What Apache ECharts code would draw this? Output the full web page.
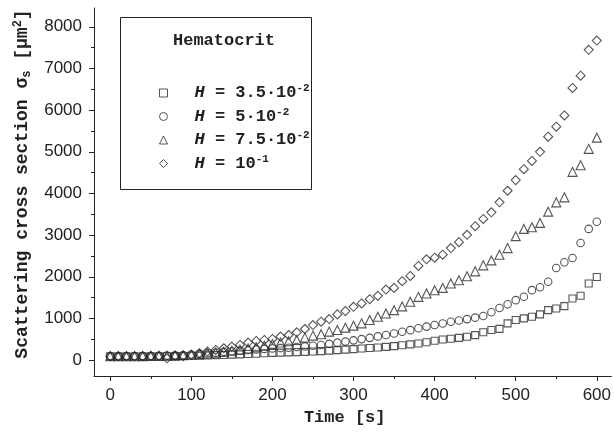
<!DOCTYPE html>
<html><head><meta charset="utf-8">
<script src="https://cdn.jsdelivr.net/npm/echarts@6/dist/echarts.min.js"></script>
<style>html,body{margin:0;padding:0;background:#fff}#c{width:614px;height:433px}</style>
</head><body><div id="c"></div>
<script>
// Time [s]
const times = [0,10,20,30,40,50,60,70,80,90,100,110,120,130,140,150,160,170,180,190,200,210,220,230,240,250,260,270,280,290,300,310,320,330,340,350,360,370,380,390,400,410,420,430,440,450,460,470,480,490,500,510,520,530,540,550,560,570,580,590,600];
// Scattering cross section per hematocrit
const h035 = [90,90,90,90,92,92,95,95,98,100,105,110,115,120,125,132,140,148,155,165,175,182,188,193,200,208,218,228,240,252,265,280,292,305,320,338,358,380,400,430,465,495,515,535,560,600,668,724,750,883,963,1002,1042,1098,1201,1241,1297,1480,1544,1838,1997];
const h050 = [90,90,92,95,98,100,105,110,115,125,135,150,165,180,200,215,230,245,258,270,282,290,298,315,330,345,365,390,420,445,475,505,535,570,604,640,680,720,765,805,843,880,920,950,985,1020,1060,1150,1250,1340,1440,1520,1680,1750,1880,2210,2350,2450,2810,3150,3320];
const h075 = [95,95,95,95,98,100,100,105,110,120,130,145,160,180,200,225,250,280,310,345,390,425,455,485,541,589,620,685,724,780,828,883,962,1042,1120,1200,1290,1400,1519,1599,1678,1734,1838,1917,2013,2131,2275,2394,2530,2689,2976,3150,3190,3294,3564,3787,3907,4518,4678,5070,5339];
const h100 = [95,95,95,95,95,100,100,45,105,95,125,167,207,246,286,326,366,422,461,485,509,565,604,668,748,843,923,986,1098,1177,1281,1360,1464,1543,1695,1734,1894,2021,2260,2420,2458,2530,2689,2832,3007,3214,3389,3548,3787,4065,4320,4582,4781,5000,5363,5601,5871,6532,6826,7446,7668];

const legendBases = ['3.5·10', '5·10', '7.5·10', '10'];
const legendExps = ['-2', '-2', '-2', '-1'];
const symbols = ['rect', 'circle', 'triangle', 'diamond'];
const symbolSizes = [7, 7.5, 9, 9];

const xMajor = [0,100,200,300,400,500,600];
const xMinor = [50,150,250,350,450,550];
const yMajor = [0,1000,2000,3000,4000,5000,6000,7000,8000];
const yMinor = [500,1500,2500,3500,4500,5500,6500,7500];

const MONO = '"Liberation Mono", "Courier New", monospace';
const SANS = '"Liberation Sans", Arial, sans-serif';
const INK = '#222';

const valueSets = [h035, h050, h075, h100];
const names = legendBases.map((b, i) => 'H = ' + b + '^' + legendExps[i]);

const series = valueSets.map((vals, i) => ({
  type: 'scatter',
  name: names[i],
  symbol: symbols[i],
  symbolSize: symbolSizes[i],
  data: times.map((t, k) => [t, vals[k]]),
  itemStyle: { color: 'rgba(0,0,0,0)', borderColor: '#2a2a2a', borderWidth: 1.1 },
  silent: true,
  xAxisIndex: 0, yAxisIndex: 0
}));

const xMin = -20, xMax = 618, yMin = -380, yMax = 8450;
const plain = v => String(v);

function xAxisBase(extra) {
  return Object.assign({
    type: 'value', min: xMin, max: xMax, position: 'bottom',
    splitLine: { show: false }, minorTick: { show: false }
  }, extra);
}
function yAxisBase(extra) {
  return Object.assign({
    type: 'value', min: yMin, max: yMax, position: 'left',
    splitLine: { show: false }, minorTick: { show: false }
  }, extra);
}

const chart = echarts.init(document.getElementById('c'), null, { renderer: 'canvas' });
chart.setOption({
  animation: false,
  backgroundColor: '#fff',
  grid: { left: 94, right: 2, top: 8, bottom: 55, containLabel: false },
  xAxis: [
    xAxisBase({
      name: 'Time [s]', nameLocation: 'middle', nameGap: 32, nameMoveOverlap: false,
      nameTextStyle: { fontFamily: MONO, fontWeight: 'bold', fontSize: 17, color: INK, lineHeight: 20, padding: [0, 16, 0, 0] },
      axisLine: { show: true, onZero: false, lineStyle: { color: INK, width: 1 } },
      axisTick: { show: true, inside: false, length: 5, customValues: xMajor, lineStyle: { color: INK } },
      axisLabel: { show: true, margin: 11, customValues: xMajor, formatter: plain, fontFamily: SANS, fontSize: 17, color: INK }
    }),
    xAxisBase({
      axisLine: { show: false, onZero: false },
      axisTick: { show: true, inside: false, length: 3, customValues: xMinor, lineStyle: { color: INK } },
      axisLabel: { show: false }
    })
  ],
  yAxis: [
    yAxisBase({
      name: 'Scattering cross section σ{sub|s} [μm{sup|2}]', nameLocation: 'middle', nameGap: 61, nameRotate: 90, nameMoveOverlap: false,
      nameTextStyle: {
        fontFamily: MONO, fontWeight: 'bold', fontSize: 18, color: INK, lineHeight: 21,
        padding: [0, 0, 0, 16],
        rich: {
          sub: { fontFamily: MONO, fontWeight: 'bold', fontSize: 12, color: INK, verticalAlign: 'bottom', lineHeight: 13 },
          sup: { fontFamily: MONO, fontWeight: 'bold', fontSize: 12, color: INK, verticalAlign: 'top', lineHeight: 8 }
        }
      },
      axisLine: { show: true, onZero: false, lineStyle: { color: INK, width: 1 } },
      axisTick: { show: true, inside: false, length: 5, customValues: yMajor, lineStyle: { color: INK } },
      axisLabel: { show: true, margin: 12, customValues: yMajor, formatter: plain, fontFamily: SANS, fontSize: 17, color: INK }
    }),
    yAxisBase({
      axisLine: { show: false, onZero: false },
      axisTick: { show: true, inside: false, length: 3, customValues: yMinor, lineStyle: { color: INK } },
      axisLabel: { show: false }
    })
  ],
  legend: {
    show: true, orient: 'vertical', left: 154, top: 78,
    itemWidth: 8, itemHeight: 8, itemGap: 3.5,
    itemStyle: { color: 'rgba(0,0,0,0)', borderColor: '#2a2a2a', borderWidth: 1 },
    selectedMode: false,
    data: names.map((n, i) => ({ name: n, icon: symbols[i] })),
    formatter: function (name) {
      const parts = name.split('^');
      return '{h|H}{t|' + parts[0].slice(1) + '}{sup|' + parts[1] + '}';
    },
    textStyle: {
      fontFamily: MONO, fontWeight: 'bold', fontSize: 17, color: INK, lineHeight: 20,
      padding: [0, 0, 0, 22],
      rich: {
        h: { fontFamily: MONO, fontWeight: 'bold', fontStyle: 'italic', fontSize: 17, color: INK, lineHeight: 20 },
        t: { fontFamily: MONO, fontWeight: 'bold', fontSize: 17, color: INK, lineHeight: 20 },
        sup: { fontFamily: MONO, fontWeight: 'bold', fontSize: 11, color: INK, verticalAlign: 'top', lineHeight: 7 }
      }
    }
  },
  graphic: [
    { type: 'rect', silent: true, shape: { x: 120.5, y: 17.5, width: 191, height: 172 }, style: { fill: 'none', stroke: INK, lineWidth: 1 } },
    { type: 'text', silent: true, x: 224, y: 41, style: { text: 'Hematocrit', font: 'bold 17px ' + MONO, fill: INK, textAlign: 'center', textVerticalAlign: 'middle' } }
  ],
  series: series
});
</script>
</body></html>
